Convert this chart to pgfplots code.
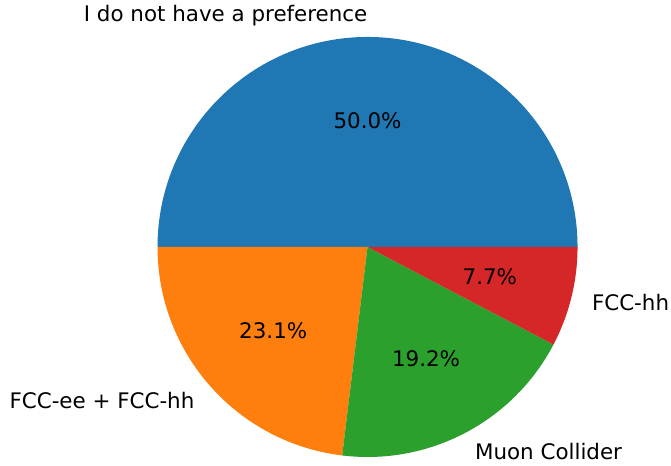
\documentclass[border=0pt]{standalone}
\usepackage{pgfplots}
\usepackage{pgfplotstable}
\pgfplotsset{compat=1.18}
\usepackage{fontspec}
\setmainfont{DejaVu Sans}
\definecolor{c1}{HTML}{1F77B4}
\definecolor{c2}{HTML}{FF7F0E}
\definecolor{c3}{HTML}{2CA02C}
\definecolor{c4}{HTML}{D62728}
\pgfplotstableread{
value
13
6
5
2
}\piedata
\pgfplotstablegetelem{0}{value}\of\piedata \edef\va{\pgfplotsretval}
\pgfplotstablegetelem{1}{value}\of\piedata \edef\vb{\pgfplotsretval}
\pgfplotstablegetelem{2}{value}\of\piedata \edef\vc{\pgfplotsretval}
\pgfplotstablegetelem{3}{value}\of\piedata \edef\vd{\pgfplotsretval}
\pgfmathsetmacro\tot{\va+\vb+\vc+\vd}
\pgfmathsetmacro\aB{360*\va/\tot}
\pgfmathsetmacro\aC{\aB+360*\vb/\tot}
\pgfmathsetmacro\aD{\aC+360*\vc/\tot}
\pgfmathsetmacro\mA{\aB/2}
\pgfmathsetmacro\mB{(\aB+\aC)/2}
\pgfmathsetmacro\mC{(\aC+\aD)/2}
\pgfmathsetmacro\mD{(\aD+360)/2}
\pgfmathsetmacro\pA{100*\va/\tot}
\pgfmathsetmacro\pB{100*\vb/\tot}
\pgfmathsetmacro\pC{100*\vc/\tot}
\pgfmathsetmacro\pD{100*\vd/\tot}
\newcommand\pct[1]{\pgfmathprintnumber[fixed,precision=1,fixed zerofill,assume math mode=true]{#1}\%}
\tikzset{lbl/.style={inner sep=0pt, font=\fontsize{21.4}{25}\selectfont, text=black}}
\begin{document}
\begin{tikzpicture}
\begin{axis}[
  x=210pt, y=210pt,
  xmin=-1.75, xmax=1.445, ymin=-1.014, ymax=1.176,
  hide axis, clip=false,
]
\fill[c1] (axis cs:0,0) -- (axis cs:1,0) arc[start angle=0,end angle=\aB,radius=210pt] -- cycle;
\fill[c2] (axis cs:0,0) -- (axis cs:{cos(\aB)},{sin(\aB)}) arc[start angle=\aB,end angle=\aC,radius=210pt] -- cycle;
\fill[c3] (axis cs:0,0) -- (axis cs:{cos(\aC)},{sin(\aC)}) arc[start angle=\aC,end angle=\aD,radius=210pt] -- cycle;
\fill[c4] (axis cs:0,0) -- (axis cs:{cos(\aD)},{sin(\aD)}) arc[start angle=\aD,end angle=360,radius=210pt] -- cycle;
\node[lbl,anchor=east] at (axis cs:{1.1*cos(\mA)},{1.1*sin(\mA)}) {I do not have a preference};
\node[lbl,anchor=east] at (axis cs:{1.1*cos(\mB)},{1.1*sin(\mB)}) {FCC-ee + FCC-hh};
\node[lbl,anchor=west] at (axis cs:{1.1*cos(\mC)},{1.1*sin(\mC)}) {Muon Collider};
\node[lbl,anchor=west] at (axis cs:{1.1*cos(\mD)},{1.1*sin(\mD)}) {FCC-hh};
\node[lbl] at (axis cs:{0.6*cos(\mA)},{0.6*sin(\mA)}) {\pct{\pA}};
\node[lbl] at (axis cs:{0.6*cos(\mB)},{0.6*sin(\mB)}) {\pct{\pB}};
\node[lbl] at (axis cs:{0.6*cos(\mC)},{0.6*sin(\mC)}) {\pct{\pC}};
\node[lbl] at (axis cs:{0.6*cos(\mD)},{0.6*sin(\mD)}) {\pct{\pD}};
\end{axis}
\path[use as bounding box] (current axis.south west) rectangle (current axis.north east);
\end{tikzpicture}
\end{document}
